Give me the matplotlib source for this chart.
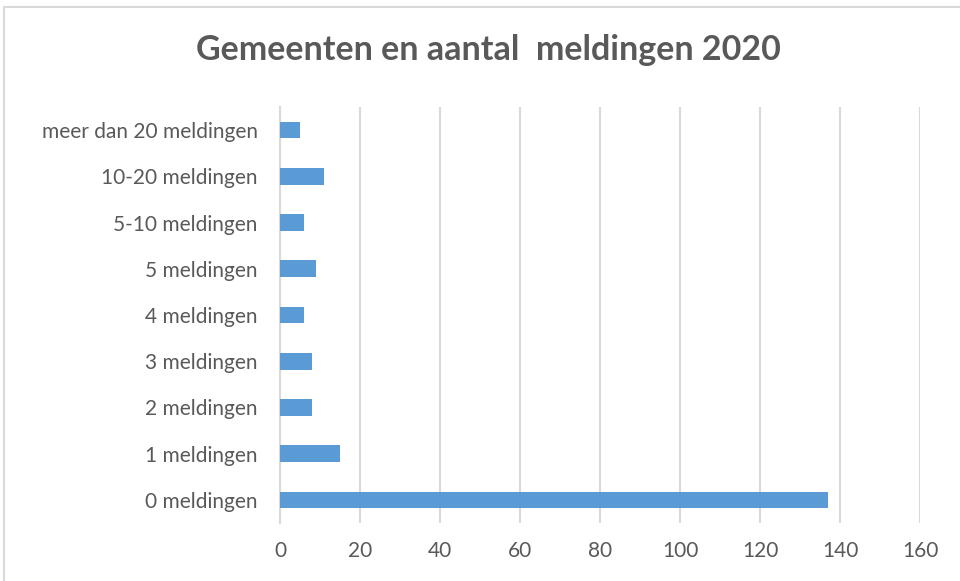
import matplotlib.pyplot as plt
from matplotlib.patches import Rectangle

# categories from bottom to top
categories = ["0 meldingen", "1 meldingen", "2 meldingen", "3 meldingen",
              "4 meldingen", "5 meldingen", "5-10 meldingen",
              "10-20 meldingen", "meer dan 20 meldingen"]
gemeenten = [137, 15, 8, 8, 6, 9, 6, 11, 5]
xticks = [0, 20, 40, 60, 80, 100, 120, 140, 160]

plt.rcParams['font.family'] = ['Lato', 'DejaVu Sans']

fig = plt.figure(figsize=(9.6, 5.81), dpi=100)
# chart frame (cropped on right/bottom)
fig.patches.append(Rectangle((4 / 960, -0.1), 1.1, 1.1 - 7 / 581,
                             transform=fig.transFigure, fill=False,
                             edgecolor="#d9d9d9", linewidth=1.5))

ax = fig.add_axes([280 / 960, 1 - 523 / 581, 640 / 960, 416 / 581])
ax.barh(range(len(categories)), gemeenten, height=0.36, color="#5b9bd5",
        zorder=3)

ax.set_xlim(0, 160)
ax.set_ylim(-0.5, len(categories) - 0.5)
ax.set_xticks(xticks)
ax.set_yticks(range(len(categories)))
ax.set_yticklabels(categories)
ax.grid(axis="x", color="#d9d9d9", linewidth=1.5, zorder=0)
ax.tick_params(length=0, labelsize=15, colors="#595959")
ax.tick_params(axis="x", pad=13)
ax.tick_params(axis="y", pad=16)
for s in ["top", "right", "bottom"]:
    ax.spines[s].set_visible(False)
ax.spines["left"].set_color("#d9d9d9")
ax.spines["left"].set_linewidth(1.5)

fig.text(488 / 960, 1 - 50 / 581, "Gemeenten en aantal  meldingen 2020",
         ha="center", va="center", fontsize=24.5, fontweight="bold",
         color="#595959")

fig.savefig("out.png", dpi=100)
